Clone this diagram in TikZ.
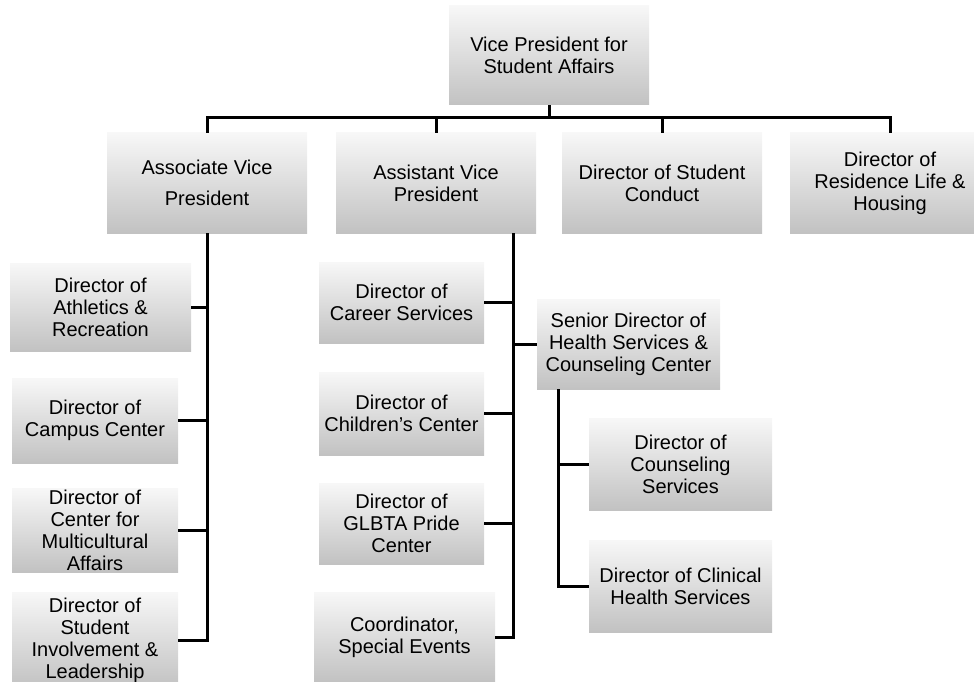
\documentclass[tikz,border=0pt]{standalone}
\usepackage{fontspec}
\setmainfont{Liberation Sans}
\tikzset{
  box/.style={rectangle,top color=gray!6,bottom color=gray!48,draw=none,inner sep=0pt,
    align=center,font=\fontsize{20}{22}\selectfont},
  wire/.style={line width=3pt,black}
}
\begin{document}
\begin{tikzpicture}[x=1pt,y=-1pt]
        \useasboundingbox (0,0) rectangle (974,682);
        \clip (0,0) rectangle (974,682);
        \node[box,minimum width=200,minimum height=99] (vp) at (549,55.5) {Vice President for\\Student Affairs};
        \node[box,minimum width=200,minimum height=100] (avp) at (207,183) {Associate Vice\\[9pt]President};
        \node[box,minimum width=200,minimum height=100] (asvp) at (436,183) {Assistant Vice\\President};
        \node[box,minimum width=200,minimum height=100] (cond) at (662,183) {Director of Student\\Conduct};
        \node[box,minimum width=200,minimum height=100] (res) at (890,183) {Director of\\Residence Life \&\\Housing};
        \node[box,minimum width=181,minimum height=88] (ath) at (100.5,307) {Director of\\Athletics \&\\Recreation};
        \node[box,minimum width=166,minimum height=85] (camp) at (95,420.5) {Director of\\Campus Center};
        \node[box,minimum width=166,minimum height=84] (multi) at (95,530) {Director of\\Center for\\Multicultural\\Affairs};
        \node[box,minimum width=166,minimum height=96] (inv) at (95,640) {Director of\\Student\\Involvement \&\\Leadership};
        \node[box,minimum width=165,minimum height=81] (career) at (401.5,302.5) {Director of\\Career Services};
        \node[box,minimum width=165,minimum height=83] (child) at (401.5,413.5) {Director of\\Children's Center};
        \node[box,minimum width=165,minimum height=81] (glbta) at (401.5,523.5) {Director of\\GLBTA Pride\\Center};
        \node[box,minimum width=181,minimum height=90] (coord) at (404.5,637) {Coordinator,\\Special Events};
        \node[box,minimum width=183,minimum height=90] (senior) at (628.5,344) {Senior Director of\\Health Services \&\\Counseling Center};
        \node[box,minimum width=183,minimum height=92] (couns) at (680.5,464) {Director of\\Counseling\\Services};
        \node[box,minimum width=183,minimum height=92] (clin) at (680.5,586) {Director of Clinical\\Health Services};
        \coordinate (bar) at (0,118);
        \coordinate (asvptap) at (513,233);
        \coordinate (stap) at (558,389);
        \draw[wire](vp.south) -- (vp.south |- bar);
        \draw[wire](avp.north) -- (avp.north |- bar) -- (res.north |- bar) -- (res.north);
        \draw[wire](asvp.north) -- (asvp.north |- bar);
        \draw[wire](cond.north) -- (cond.north |- bar);
        \draw[wire](avp.south) -- (avp.south |- inv.east) -- (inv.east);
        \foreach \n in {ath,camp,multi}
            \draw[wire](\n.east) -- (\n.east -| avp.south);
        \draw[wire](asvptap) -- (asvptap |- coord.east) -- (coord.east);
        \foreach \n in {career,child,glbta}
            \draw[wire](\n.east -| asvptap) -- (\n.east);
        \draw[wire](senior.west) -- (senior.west -| asvptap);
        \draw[wire](stap) -- (stap |- clin.west) -- (clin.west);
        \draw[wire](couns.west) -- (couns.west -| stap);
\end{tikzpicture}
\end{document}
